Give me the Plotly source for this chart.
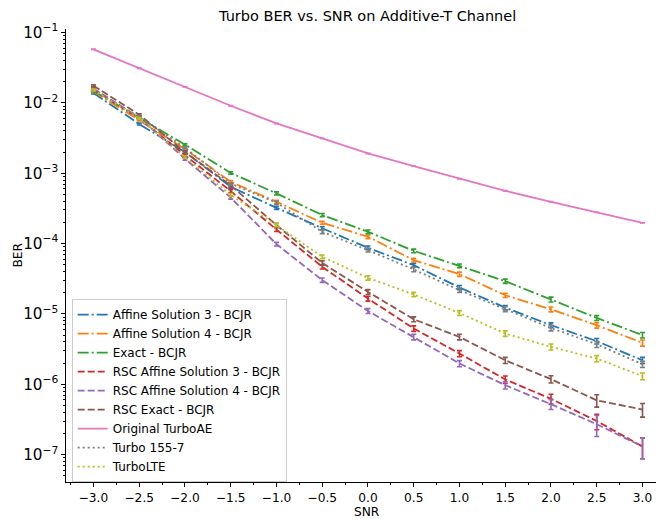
import plotly.graph_objects as go

snr = [-3.0, -2.5, -2.0, -1.5, -1.0, -0.5, 0.0, 0.5, 1.0, 1.5, 2.0, 2.5, 3.0]
snr_ticks = [-3.0, -2.5, -2.0, -1.5, -1.0, -0.5, 0.0, 0.5, 1.0, 1.5, 2.0, 2.5, 3.0]
snr_tick_labels = ["\u22123.0", "\u22122.5", "\u22122.0", "\u22121.5", "\u22121.0", "\u22120.5",
                   "0.0", "0.5", "1.0", "1.5", "2.0", "2.5", "3.0"]

affine3_bcjr = [1.38e-2, 5.0e-3, 2.0e-3, 6.4e-4, 3.22e-4, 1.65e-4, 8.7e-5, 4.93e-5, 2.37e-5, 1.23e-5, 6.9e-6, 4.1e-6, 2.19e-6]
affine4_bcjr = [1.45e-2, 5.7e-3, 2.2e-3, 7.55e-4, 3.92e-4, 1.97e-4, 1.25e-4, 5.8e-5, 3.67e-5, 1.84e-5, 1.16e-5, 6.9e-6, 3.87e-6]
exact_bcjr = [1.48e-2, 6.2e-3, 2.55e-3, 1.01e-3, 5.16e-4, 2.54e-4, 1.47e-4, 7.87e-5, 4.82e-5, 2.92e-5, 1.6e-5, 8.77e-6, 4.98e-6]
rsc_affine3 = [1.55e-2, 6.0e-3, 1.8e-3, 5.56e-4, 1.58e-4, 4.67e-5, 1.65e-5, 6.2e-6, 2.73e-6, 1.17e-6, 6.2e-7, 3.0e-7, 1.3e-7]
rsc_affine4 = [1.6e-2, 6.2e-3, 1.6e-3, 4.5e-4, 9.8e-5, 3.02e-5, 1.1e-5, 4.7e-6, 1.97e-6, 9.7e-7, 5.2e-7, 2.7e-7, 1.3e-7]
rsc_exact = [1.75e-2, 6.8e-3, 2.0e-3, 6.7e-4, 1.83e-4, 5.3e-5, 2.05e-5, 8.4e-6, 4.7e-6, 2.19e-6, 1.18e-6, 5.9e-7, 4.37e-7]
original_turboae = [5.77e-2, 3.1e-2, 1.69e-2, 9.1e-3, 5.1e-3, 3.13e-3, 1.91e-3, 1.26e-3, 8.32e-4, 5.62e-4, 3.92e-4, 2.77e-4, 1.97e-4]
turbo_155_7 = [1.5e-2, 6.3e-3, 2.3e-3, 7.1e-4, 3.8e-4, 1.47e-4, 8.05e-5, 4.28e-5, 2.17e-5, 1.17e-5, 6.3e-6, 3.7e-6, 1.92e-6]
turbo_lte = [1.52e-2, 6.0e-3, 1.7e-3, 4.9e-4, 1.83e-4, 6.48e-5, 3.25e-5, 1.89e-5, 1.03e-5, 5.26e-6, 3.4e-6, 2.32e-6, 1.3e-6]

# relative error-bar half-widths (fraction of value)
rel_affine3 = [0.03, 0.03, 0.03, 0.04, 0.05, 0.05, 0.06, 0.06, 0.07, 0.07, 0.08, 0.09, 0.1]
rel_affine4 = [0.03, 0.03, 0.03, 0.04, 0.05, 0.05, 0.06, 0.06, 0.07, 0.07, 0.08, 0.09, 0.1]
rel_exact = [0.03, 0.03, 0.03, 0.04, 0.05, 0.05, 0.06, 0.06, 0.06, 0.07, 0.08, 0.08, 0.09]
rel_rsc_affine3 = [0.03, 0.03, 0.04, 0.05, 0.06, 0.07, 0.08, 0.09, 0.1, 0.12, 0.16, 0.25, 0.33]
rel_rsc_affine4 = [0.03, 0.03, 0.04, 0.05, 0.06, 0.07, 0.08, 0.09, 0.1, 0.12, 0.16, 0.33, 0.33]
rel_rsc_exact = [0.03, 0.03, 0.04, 0.05, 0.06, 0.07, 0.08, 0.08, 0.09, 0.1, 0.12, 0.2, 0.22]
rel_turboae = [0.005, 0.005, 0.005, 0.005, 0.005, 0.005, 0.005, 0.005, 0.005, 0.005, 0.005, 0.005, 0.005]
rel_155_7 = [0.03, 0.03, 0.03, 0.04, 0.05, 0.06, 0.06, 0.07, 0.07, 0.08, 0.09, 0.1, 0.1]
rel_lte = [0.03, 0.03, 0.04, 0.05, 0.05, 0.06, 0.07, 0.07, 0.08, 0.09, 0.1, 0.1, 0.11]

series = [
    ("Affine Solution 3 - BCJR", affine3_bcjr, rel_affine3, "#1f77b4", "dashdot"),
    ("Affine Solution 4 - BCJR", affine4_bcjr, rel_affine4, "#ff7f0e", "dashdot"),
    ("Exact - BCJR", exact_bcjr, rel_exact, "#2ca02c", "dashdot"),
    ("RSC Affine Solution 3 - BCJR", rsc_affine3, rel_rsc_affine3, "#d62728", "dash"),
    ("RSC Affine Solution 4 - BCJR", rsc_affine4, rel_rsc_affine4, "#9467bd", "dash"),
    ("RSC Exact - BCJR", rsc_exact, rel_rsc_exact, "#8c564b", "dash"),
    ("Original TurboAE", original_turboae, rel_turboae, "#e377c2", "solid"),
    ("Turbo 155-7", turbo_155_7, rel_155_7, "#7f7f7f", "dot"),
    ("TurboLTE", turbo_lte, rel_lte, "#bcbd22", "dot"),
]

dash_map = {
    "dashdot": "11px,3px,2px,3px",
    "dash": "7px,3px",
    "dot": "2px,3px",
    "solid": "solid",
}

FONT = "DejaVu Sans"

# The page body has an 8px margin, so the figure is drawn from (8, 8).
W, H = 656, 511
ML, MR, MT, MB = 58, 0, 21, 37
PW, PH = W - ML - MR, H - MT - MB

fig = go.Figure()
for name, vals, rel, color, style in series:
    fig.add_trace(go.Scatter(
        x=snr, y=vals, name=name, mode="lines",
        line=dict(color=color, width=1.8, dash=dash_map[style]),
        error_y=dict(type="data", array=[v * r for v, r in zip(vals, rel)],
                     visible=True, color=color, thickness=1.6, width=2.5),
    ))

fig.update_layout(
    width=W, height=H,
    margin=dict(l=ML, r=MR, t=MT, b=MB),
    paper_bgcolor="white", plot_bgcolor="white",
    font=dict(family=FONT, size=12, color="#000000"),
    showlegend=True,
    legend=dict(x=0.0095, y=0.2015, xanchor="left", yanchor="middle",
                bgcolor="rgba(255,255,255,0.8)", bordercolor="#cccccc", borderwidth=1,
                font=dict(family=FONT, size=12, color="#000000"),
                itemwidth=30, tracegroupgap=0),
    xaxis=dict(
        range=[-3.3, 3.235], tickmode="array",
        tickvals=snr_ticks, ticktext=snr_tick_labels,
        ticks="outside", ticklen=4.3, tickwidth=1, tickcolor="#000000",
        minor=dict(ticks="outside", ticklen=2.4, tickwidth=0.8, tickcolor="#000000", dtick=0.25),
        showline=True, linecolor="#000000", linewidth=1,
        showgrid=False, zeroline=False,
        tickfont=dict(family=FONT, size=12.2, color="#000000"),
    ),
    yaxis=dict(
        type="log", range=[-7.39, -0.95], dtick=1, exponentformat="power",
        ticks="outside", ticklen=4.3, tickwidth=1, tickcolor="#000000",
        minor=dict(ticks="outside", ticklen=2.4, tickwidth=0.8, tickcolor="#000000", dtick="D1", showgrid=False),
        showline=True, linecolor="#000000", linewidth=1,
        showgrid=False, zeroline=False,
        tickfont=dict(family=FONT, size=12.2, color="#000000"),
    ),
)

# Title (centred over the axes)
fig.add_annotation(
    text="Turbo BER vs. SNR on Additive-T Channel", xref="paper", yref="paper",
    x=(359 - ML) / PW, y=1 + (MT - 8.5) / PH, xanchor="center", yanchor="middle",
    showarrow=False, font=dict(family=FONT, size=14.5, color="#000000"),
)
# Axis titles
fig.add_annotation(
    text="SNR", xref="paper", yref="paper",
    x=(359 - ML) / PW, y=-(503.5 - (MT + PH)) / PH, xanchor="center", yanchor="middle",
    showarrow=False, font=dict(family=FONT, size=12.2, color="#000000"),
)
fig.add_annotation(
    text="BER", xref="paper", yref="paper", textangle=-90,
    x=(9 - ML) / PW, y=0.5, xanchor="center", yanchor="middle",
    showarrow=False, font=dict(family=FONT, size=12.2, color="#000000"),
)

fig.write_html("out.html")
